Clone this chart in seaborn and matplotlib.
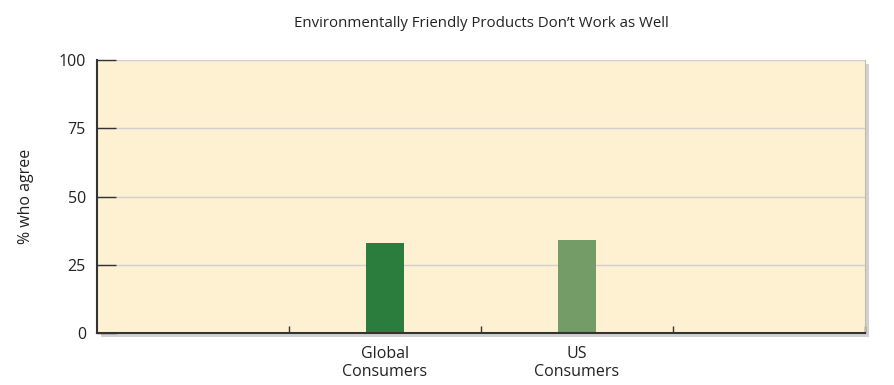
import numpy as np
import pandas as pd
import seaborn as sns
import matplotlib
matplotlib.use("Agg")
from matplotlib import pyplot as plt
from matplotlib import patheffects as pe

categories = ["Global\nConsumers", "US\nConsumers"]
agree_pct = [33, 34]
bar_colors = ["#2b7d3e", "#739c66"]
y_ticks = [0, 25, 50, 75, 100]

df = pd.DataFrame({"group": categories, "pct": agree_pct})

sns.set_style("white")
plt.rcParams["font.family"] = ["Open Sans", "DejaVu Sans"]

fig = plt.figure(figsize=(8.95, 3.85), dpi=100)
ax = fig.add_axes([0.1084, 0.135, 0.8581, 0.709])

sns.barplot(data=df, x="group", y="pct", hue="group", palette=bar_colors,
            width=0.2, legend=False, ax=ax, saturation=1, edgecolor="none")

ax.set_facecolor("#fef1d2")
ax.patch.set_path_effects([pe.SimplePatchShadow(offset=(3, -3), shadow_rgbFace="#999999", alpha=0.45),
                           pe.Normal()])

ax.set_xlim(-1.5, 2.5)
ax.set_ylim(0, 100)
ax.set_yticks(y_ticks)
ax.set_xticks([-0.5, 0.5, 1.5, 2.5], minor=True)
ax.tick_params(axis="x", which="major", bottom=False, length=0, pad=9, labelsize=11.5, colors="#222222")
ax.tick_params(axis="x", which="minor", bottom=True, direction="in", length=5, width=1, color="#333333")
ax.tick_params(axis="y", left=True, direction="in", length=14, width=1, color="#333333",
               pad=8, labelsize=11.5, labelcolor="#222222")
ax.yaxis.grid(True, color="#d0d0d0", linewidth=1)
ax.set_axisbelow(True)

for s in ["left", "bottom"]:
    ax.spines[s].set_color("#333333")
    ax.spines[s].set_linewidth(1.5)
ax.spines["top"].set_visible(False)
ax.spines["right"].set_color("#bbbbbb")
ax.spines["right"].set_linewidth(0.8)

ax.set_xlabel("")
ax.set_ylabel("% who agree", fontsize=11.5, color="#222222", labelpad=18)
ax.set_title("Environmentally Friendly Products Don\u2019t Work as Well",
             fontsize=10.8, color="#222222", pad=24)

fig.savefig("out.png", dpi=100)
